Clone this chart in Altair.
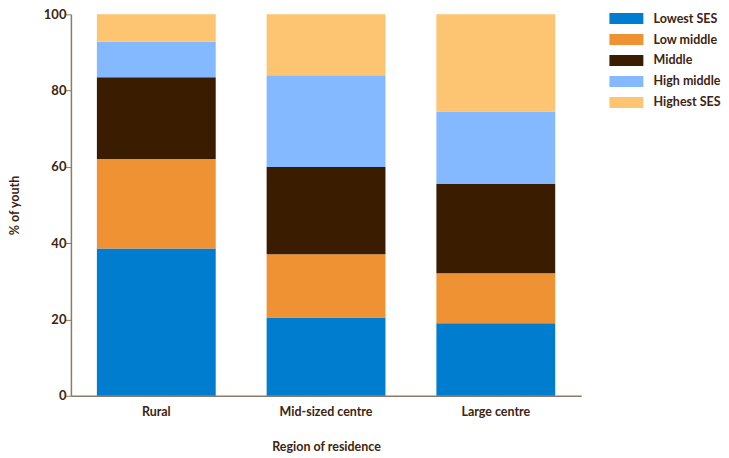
import altair as alt
import pandas as pd

regions = ["Rural", "Mid-sized centre", "Large centre"]
groups = ["Lowest SES", "Low middle", "Middle", "High middle", "Highest SES"]
colors = ["#007DCF", "#EE9233", "#3A1D00", "#84B8FF", "#FDC472"]

rural = [38.6, 23.5, 21.4, 9.3, 7.2]
mid_sized = [20.5, 16.6, 22.9, 24.0, 16.0]
large = [19.0, 13.1, 23.4, 19.0, 25.5]

series = {"Rural": rural, "Mid-sized centre": mid_sized, "Large centre": large}
rows = []
for r in regions:
    for i, g in enumerate(groups):
        rows.append({"region": r, "group": g, "order": i, "value": series[r][i]})
df = pd.DataFrame(rows)

TXT = "#3D2410"
AX = "#8C7B6B"
FONT = "Lato"

chart = alt.Chart(df).mark_bar().encode(
    x=alt.X("region:N", sort=regions,
            scale=alt.Scale(paddingInner=0.3, paddingOuter=0.153),
            axis=alt.Axis(title="Region of residence", labelAngle=0, ticks=False,
                          labelPadding=16, labelBaseline="middle",
                          titleY=51, titleBaseline="middle",
                          domainColor=AX, domainWidth=1.5)),
    y=alt.Y("value:Q", stack="zero",
            scale=alt.Scale(domain=[0, 100], nice=False),
            axis=alt.Axis(title="% of youth", values=[0, 20, 40, 60, 80, 100],
                          grid=False, tickSize=6, tickColor=AX, domainColor=AX,
                          domainWidth=1.5, labelPadding=-1,
                          titleX=-56, titleY=191, titleAngle=-90,
                          titleAlign="center", titleBaseline="middle")),
    color=alt.Color("group:N", sort=groups,
                    scale=alt.Scale(domain=groups, range=colors),
                    legend=alt.Legend(title=None, orient="none", legendX=550, legendY=-2,
                                      symbolType="M-3.09,-1L3.09,-1L3.09,1L-3.09,1Z",
                                      symbolSize=121, symbolStrokeWidth=0,
                                      labelFontSize=12.5, labelFontWeight="bold",
                                      labelColor=TXT, labelFont=FONT, labelOffset=21,
                                      rowPadding=8)),
    order=alt.Order("order:Q", sort="ascending"),
).properties(
    width=511, height=382,
    autosize=alt.AutoSizeParams(type="none"),
    padding={"left": 63, "top": 6, "right": 140, "bottom": 62},
).configure_view(stroke=None).configure_axis(
    labelFont=FONT, titleFont=FONT, labelColor=TXT, titleColor=TXT,
    labelFontWeight="bold", titleFontWeight="bold",
    labelFontSize=13, titleFontSize=12.5,
).configure_axisX(labelFontSize=12.5)

chart.save("out.html", embed_options={"renderer": "svg", "actions": False})
